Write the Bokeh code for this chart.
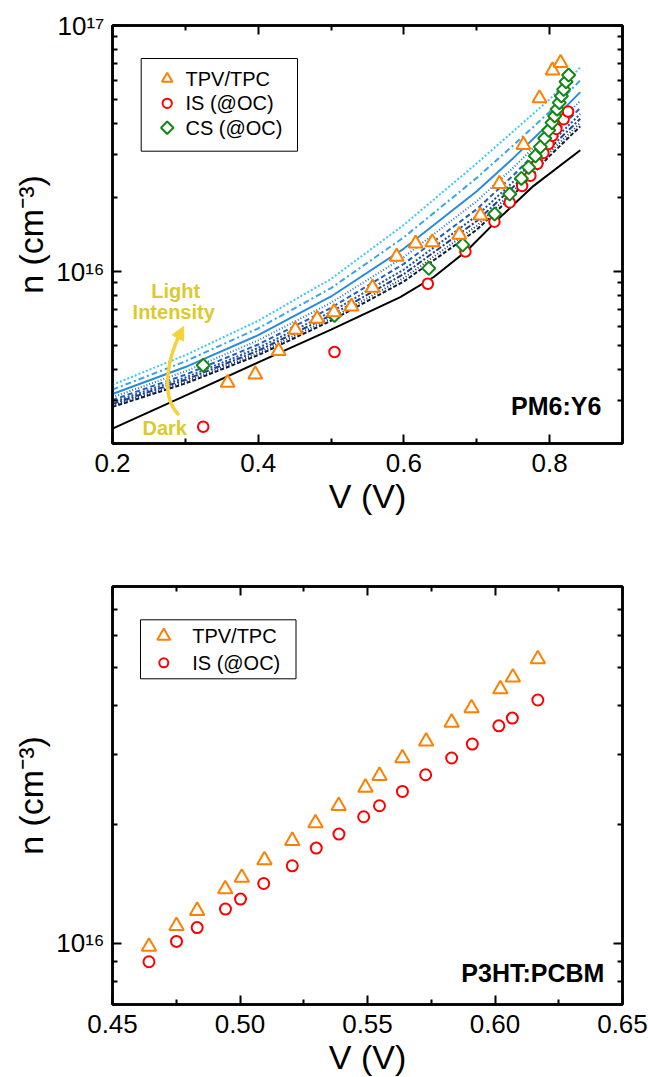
import math
from bokeh.plotting import figure
from bokeh.models import (Range1d, FixedTicker, NumeralTickFormatter, LinearAxis, LogAxis,
                          CustomJSTickFormatter, Arrow, NormalHead)
from bokeh.layouts import column
from bokeh.embed import file_html
from bokeh.resources import INLINE
from bokeh.core.properties import value

FONT = "Liberation Sans"

# ---------------- top panel (PM6:Y6) data ----------------
tpv_v = [0.358, 0.396, 0.428, 0.451, 0.481, 0.504, 0.528, 0.557, 0.590, 0.616,
         0.639, 0.676, 0.705, 0.731, 0.764, 0.786, 0.804, 0.815]
tpv_n = [3.53e15, 3.82e15, 4.75e15, 5.80e15, 6.43e15, 6.84e15, 7.21e15, 8.60e15, 1.15e16, 1.30e16,
         1.315e16, 1.41e16, 1.69e16, 2.27e16, 3.27e16, 5.06e16, 6.57e16, 7.05e16]

is_v = [0.3245, 0.5047, 0.6328, 0.6844, 0.7242, 0.7452, 0.7622, 0.7736, 0.7832, 0.7914,
        0.7983, 0.8037, 0.8092, 0.8192, 0.8253]
is_n = [2.34e15, 4.71e15, 8.92e15, 1.205e16, 1.595e16, 1.91e16, 2.226e16, 2.45e16, 2.74e16, 3.03e16,
        3.30e16, 3.56e16, 3.80e16, 4.16e16, 4.47e16]

cs_v = [0.3245, 0.5047, 0.6341, 0.6807, 0.7246, 0.7452, 0.7612, 0.7712, 0.7804, 0.7873,
        0.7932, 0.7987, 0.8033, 0.8069, 0.8102, 0.8133, 0.8161, 0.8192, 0.8225, 0.8261]
cs_n = [4.16e15, 6.63e15, 1.031e16, 1.283e16, 1.714e16, 2.065e16, 2.39e16, 2.65e16, 2.95e16, 3.21e16,
        3.48e16, 3.75e16, 4.03e16, 4.29e16, 4.57e16, 4.86e16, 5.17e16, 5.50e16, 5.91e16, 6.29e16]

dark_v = [0.20, 0.30, 0.40, 0.50, 0.595, 0.641, 0.687, 0.732, 0.778, 0.842]
dark_n = [2.30e15, 3.13e15, 4.27e15, 5.81e15, 7.87e15, 9.50e15, 1.22e16, 1.66e16, 2.23e16, 3.11e16]

# light-intensity curves (units of 1e15 cm^-3), from lowest to highest intensity
curve_v = [0.20, 0.30, 0.40, 0.50, 0.60, 0.70, 0.75, 0.80, 0.842]
curve_1 = [2.818, 3.508, 4.571, 6.310, 9.120, 14.79, 20.42, 29.51, 38.90]
curve_2 = [2.853, 3.564, 4.660, 6.460, 9.415, 15.35, 21.17, 30.46, 40.21]
curve_3 = [2.895, 3.631, 4.767, 6.639, 9.770, 16.04, 22.07, 31.61, 41.80]
curve_4 = [2.943, 3.709, 4.891, 6.851, 10.19, 16.85, 23.16, 32.98, 43.68]
curve_5 = [3.005, 3.808, 5.051, 7.124, 10.75, 17.93, 24.58, 34.77, 46.17]
curve_6 = [3.081, 3.931, 5.251, 7.467, 11.45, 19.32, 26.42, 37.06, 49.33]
curve_7 = [3.178, 4.090, 5.511, 7.918, 12.40, 21.21, 28.90, 40.12, 53.60]
curve_8 = [3.312, 4.313, 5.877, 8.563, 13.78, 24.02, 32.57, 44.60, 59.86]
curve_9 = [3.467, 4.571, 6.310, 9.333, 15.49, 27.54, 37.15, 50.12, 67.61]
curves = [curve_1, curve_2, curve_3, curve_4, curve_5, curve_6, curve_7, curve_8, curve_9]
curve_colors = ["#0b1a3f", "#14306e", "#1a3f8f", "#1d4fa8", "#1f5fbf",
                "#2274cf", "#2a8ae0", "#3aa3ea", "#3cc8f5"]
curve_dashes = ["4 2", "1 2", "6 2 2 2", "2 2", "5 3", "1 2", "solid", "6 3 2 3", "2 2"]

# annotation anchors (data coordinates)
note_text = ["Light", "Intensity"]
note_v = [0.2868, 0.284]
note_n = [8.3e15, 6.85e15]
dark_label = ("Dark", 0.2717, 2.32e15)
arrow_start = (0.2913, 2.61e15)
arrow_c0 = (0.2635, 3.14e15)
arrow_c1 = (0.2772, 4.57e15)
arrow_end = (0.295, 5.77e15)
arrow_head = ((0.2893, 5.35e15), (0.2978, 5.98e15))

# ---------------- bottom panel (P3HT:PCBM) data ----------------
tpv2_v = [0.4643, 0.4751, 0.4832, 0.4942, 0.5007, 0.5096, 0.5205, 0.5296, 0.5387, 0.5492,
          0.5547, 0.5637, 0.5730, 0.5830, 0.5908, 0.6021, 0.6070, 0.6168]
tpv2_n = [0.981e16, 1.107e16, 1.209e16, 1.372e16, 1.467e16, 1.624e16, 1.818e16, 2.015e16, 2.229e16, 2.480e16,
          2.656e16, 2.944e16, 3.243e16, 3.622e16, 3.938e16, 4.401e16, 4.709e16, 5.243e16]
is2_v = [0.4643, 0.4751, 0.4832, 0.4943, 0.5002, 0.5093, 0.5205, 0.5299, 0.5388, 0.5485,
         0.5547, 0.5637, 0.5728, 0.5830, 0.5911, 0.6015, 0.6068, 0.6168]
is2_n = [0.898e16, 1.011e16, 1.096e16, 1.221e16, 1.294e16, 1.417e16, 1.571e16, 1.742e16, 1.890e16, 2.091e16,
         2.229e16, 2.423e16, 2.671e16, 2.944e16, 3.194e16, 3.552e16, 3.716e16, 4.128e16]

legend1_labels = ["TPV/TPC", "IS (@OC)", "CS (@OC)"]
legend2_labels = ["TPV/TPC", "IS (@OC)"]

ORANGE = "#ff8000"
RED = "#ff0000"
GREEN = "#118811"
YELLOW = "#f5d338"
DIAMOND_ANGLE = math.pi / 4

# frame geometry in page pixels (used only to place the legend boxes)
FRAME_W, FRAME_H = 510, 418


def style_axis(ax, ticks, minor, show_labels=True):
    ax.ticker = FixedTicker(ticks=ticks, minor_ticks=minor)
    ax.axis_line_width = 2.5
    ax.axis_line_color = "black"
    ax.major_tick_in = 9
    ax.major_tick_out = 0
    ax.minor_tick_in = 5
    ax.minor_tick_out = 0
    ax.major_tick_line_width = 2
    ax.minor_tick_line_width = 2
    ax.major_tick_line_color = "black"
    ax.minor_tick_line_color = "black"
    ax.major_label_text_font = FONT
    ax.major_label_text_font_size = "26px"
    ax.major_label_text_color = "black"
    ax.major_label_standoff = 10
    ax.axis_label_text_font = FONT
    ax.axis_label_text_font_size = "34px"
    ax.axis_label_text_font_style = "normal"
    ax.axis_label_text_color = "black"
    if not show_labels:
        ax.formatter = CustomJSTickFormatter(code="return ''")
        ax.major_label_text_font_size = "1px"
        ax.major_label_standoff = 0


def make_fig(xr, yr, top, bottom):
    p = figure(frame_width=FRAME_W, frame_height=FRAME_H,
               min_border_left=112, min_border_right=26,
               min_border_top=top, min_border_bottom=bottom,
               x_range=Range1d(*xr), y_range=Range1d(*yr), y_axis_type="log",
               output_backend="svg", toolbar_location=None)
    p.grid.visible = False
    p.outline_line_color = "black"
    p.outline_line_width = 2.5
    p.background_fill_color = "white"
    p.border_fill_color = "white"
    return p


def add_axes(p, xt, xm, yt, ym, xfmt, yover):
    xb = p.xaxis[0]
    yl = p.yaxis[0]
    style_axis(xb, xt, xm)
    xb.formatter = NumeralTickFormatter(format=xfmt)
    xb.axis_label = "V (V)"
    xb.axis_label_standoff = 2
    style_axis(yl, yt, ym)
    yl.major_label_standoff = 8
    yl.major_label_overrides = yover
    yl.axis_label = "n (cm\u207b\u00b3)"
    yl.axis_label_standoff = 3
    xa = LinearAxis()
    style_axis(xa, xt, xm, show_labels=False)
    p.add_layout(xa, "above")
    yr_ax = LogAxis()
    style_axis(yr_ax, yt, ym, show_labels=False)
    p.add_layout(yr_ax, "right")


def frame_mapper(xr, yr, frame_left, frame_top):
    """Convert page-pixel positions (for the legend box) into data coordinates."""
    lx0, lx1 = xr
    ly0, ly1 = math.log10(yr[0]), math.log10(yr[1])

    def fx(px):
        return lx0 + (px - frame_left) / FRAME_W * (lx1 - lx0)

    def fy(py):
        return 10 ** (ly0 + (frame_top + FRAME_H - py) / FRAME_H * (ly1 - ly0))
    return fx, fy


def draw_legend(p, fx, fy, box, rows, mx, tx, labels, markers):
    left, right, top, bottom = box
    p.quad(left=[fx(left)], right=[fx(right)], top=[fy(top)], bottom=[fy(bottom)],
           fill_color="white", line_color="black", line_width=1)
    for ry, (marker, size, color, angle) in zip(rows, markers):
        p.scatter([fx(mx)], [fy(ry)], marker=marker, size=size, angle=angle,
                  line_color=color, line_width=2, fill_color="white")
    p.text(x=[fx(tx)] * len(labels), y=[fy(r) for r in rows], text=labels,
           text_font=value(FONT), text_font_size="20px", text_color="black",
           text_align="left", text_baseline="middle")


# ================= top figure =================
X1, Y1 = (0.2, 0.9), (2e15, 1e17)
p1 = make_fig(X1, Y1, 25, 80)
add_axes(p1, [0.2, 0.4, 0.6, 0.8], [0.3, 0.5, 0.7, 0.9],
         [1e16, 1e17], [2e15, 3e15, 4e15, 5e15, 6e15, 7e15, 8e15, 9e15,
                        2e16, 3e16, 4e16, 5e16, 6e16, 7e16, 8e16, 9e16],
         "0.0", {1e16: "10\u00b9\u2076", 1e17: "10\u00b9\u2077"})

for vals, col, dash in zip(curves, curve_colors, curve_dashes):
    p1.line(curve_v, [v * 1e15 for v in vals], line_color=col, line_width=2, line_dash=dash)
p1.line(dark_v, dark_n, line_color="black", line_width=2)

p1.scatter(is_v, is_n, marker="circle", size=10.5, line_color=RED, line_width=2, fill_color="white")
p1.scatter(cs_v, cs_n, marker="square", angle=DIAMOND_ANGLE, size=9.3,
           line_color=GREEN, line_width=2, fill_color="white")
p1.scatter(tpv_v, tpv_n, marker="triangle", size=14, line_color=ORANGE, line_width=2,
           fill_color="white")

# light-intensity arrow
p1.bezier(x0=[arrow_start[0]], y0=[arrow_start[1]], x1=[arrow_end[0]], y1=[arrow_end[1]],
          cx0=[arrow_c0[0]], cy0=[arrow_c0[1]], cx1=[arrow_c1[0]], cy1=[arrow_c1[1]],
          line_color=YELLOW, line_width=3.5)
p1.add_layout(Arrow(end=NormalHead(size=13, fill_color=YELLOW, line_color=YELLOW, line_width=1),
                    x_start=arrow_head[0][0], y_start=arrow_head[0][1],
                    x_end=arrow_head[1][0], y_end=arrow_head[1][1],
                    line_color=YELLOW, line_width=3))
p1.text(x=note_v + [dark_label[1]], y=note_n + [dark_label[2]], text=note_text + [dark_label[0]],
        text_font=value(FONT), text_font_style="bold", text_font_size="20px",
        text_color="#dcc92e", text_align="center", text_baseline="middle")
p1.text(x=[0.871], y=[2.84e15], text=["PM6:Y6"], text_font=value(FONT), text_font_style="bold",
        text_font_size="25px", text_color="black", text_align="right", text_baseline="middle")

fx1, fy1 = frame_mapper(X1, Y1, 112, 25)
draw_legend(p1, fx1, fy1, (140.7, 297.0, 58.0, 150.7), [78.3, 102.8, 127.3], 166.7, 185.0,
            legend1_labels,
            [("triangle", 10.5, ORANGE, 0.0), ("circle", 9.3, RED, 0.0),
             ("square", 8.8, GREEN, DIAMOND_ANGLE)])

# ================= bottom figure =================
X2, Y2 = (0.45, 0.65), (7e15, 8e16)
p2 = make_fig(X2, Y2, 63, 73)
add_axes(p2, [0.45, 0.50, 0.55, 0.60, 0.65], [0.475, 0.525, 0.575, 0.625],
         [1e16], [7e15, 8e15, 9e15, 2e16, 3e16, 4e16, 5e16, 6e16, 7e16, 8e16],
         "0.00", {1e16: "10\u00b9\u2076"})

p2.scatter(is2_v, is2_n, marker="circle", size=11, line_color=RED, line_width=2, fill_color="white")
p2.scatter(tpv2_v, tpv2_n, marker="triangle", size=14.5, line_color=ORANGE, line_width=2,
           fill_color="white")
p2.text(x=[0.6429], y=[8.4e15], text=["P3HT:PCBM"], text_font=value(FONT), text_font_style="bold",
        text_font_size="25px", text_color="black", text_align="right", text_baseline="middle")

fx2, fy2 = frame_mapper(X2, Y2, 112, 586)
draw_legend(p2, fx2, fy2, (140.0, 295.5, 619.3, 678.3), [635.5, 662.3], 163.3, 191.7,
            legend2_labels,
            [("triangle", 13.0, ORANGE, 0.0), ("circle", 9.0, RED, 0.0)])

layout = column(p1, p2, spacing=0)
open("out.html", "w").write(file_html(layout, INLINE))
